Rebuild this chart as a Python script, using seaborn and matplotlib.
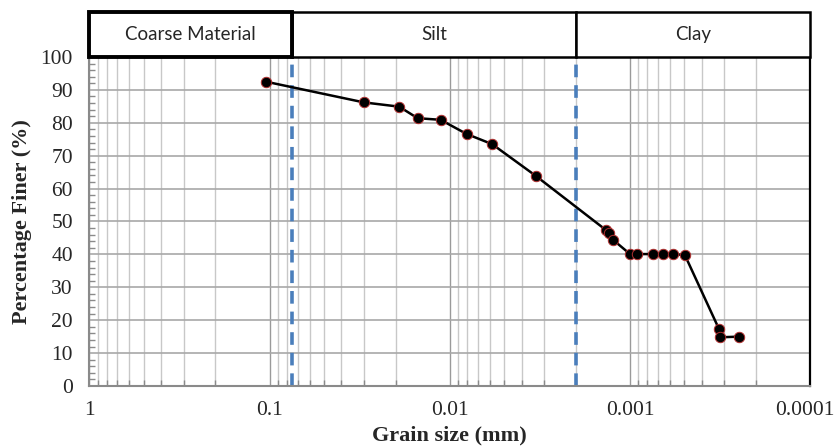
import matplotlib
matplotlib.use("Agg")
import matplotlib.pyplot as plt
from matplotlib.patches import Rectangle
from matplotlib.transforms import ScaledTranslation
from matplotlib.ticker import FixedLocator, LogLocator, NullFormatter, MultipleLocator
import seaborn as sns
import pandas as pd

# Hydrometer / sieve results
grain_size_mm = [0.105, 0.030, 0.0191, 0.0151, 0.01125, 0.00807, 0.00582, 0.00334,
                 0.00136, 0.0013, 0.00124, 0.001, 0.000912, 0.00075, 0.000659,
                 0.00058, 0.000496, 0.00032, 0.000317, 0.000249]
percent_finer = [92.5, 86.2, 84.9, 81.4, 80.9, 76.6, 73.5, 63.9,
                 47.4, 46.4, 44.4, 40.1, 40.1, 40.1, 40.1,
                 40.1, 39.8, 17.2, 14.8, 15.0]

# Soil class boundaries (mm)
boundaries = [0.075, 0.002]
class_names = ["Coarse Material", "Silt", "Clay"]
class_edges = [1.0, 0.075, 0.002, 0.0001]

x_ticks = [1, 0.1, 0.01, 0.001, 0.0001]
x_tick_labels = ["1", "0.1", "0.01", "0.001", "0.0001"]
y_ticks = list(range(0, 101, 10))

df = pd.DataFrame({"size": grain_size_mm, "finer": percent_finer})

sns.set_style("white")
plt.rcParams["font.family"] = ["Liberation Serif", "DejaVu Serif"]

fig = plt.figure(figsize=(8.38, 4.48), dpi=100)
ax = fig.add_axes([0.1068, 0.1384, 0.8600, 0.7344])
ax.set_xscale("log")
ax.set_xlim(1, 0.0001)
ax.set_ylim(0, 100)

# grid
ax.xaxis.set_major_locator(FixedLocator(x_ticks))
ax.xaxis.set_minor_locator(LogLocator(base=10, subs=range(2, 10), numticks=20))
ax.xaxis.set_minor_formatter(NullFormatter())
ax.set_xticks(x_ticks)
ax.set_xticklabels(x_tick_labels)
ax.set_yticks(y_ticks)
ax.yaxis.set_minor_locator(MultipleLocator(2))
ax.grid(which="major", axis="x", color="#9a9a9a", lw=1.0)
ax.grid(which="minor", axis="x", color="#c8c8c8", lw=1.0)
ax.grid(which="major", axis="y", color="#a8a8a8", lw=1.2)
ax.set_axisbelow(True)

# class boundary lines
for b in boundaries:
    ax.axvline(b, color="#4a7ebb", lw=2.6, ls=(0, (3.5, 2.2)), zorder=2)

sns.lineplot(data=df, x="size", y="finer", sort=False, estimator=None, ax=ax,
             color="black", lw=1.8, marker="o", markersize=7.5,
             markerfacecolor="black", markeredgecolor="#b03030",
             markeredgewidth=0.7, zorder=3)

# classification bar above the plot
trans = ax.get_xaxis_transform()
box_h = 45 / 329
for i, name in enumerate(class_names):
    x0, x1 = class_edges[i], class_edges[i + 1]
    lw = 2.8 if i == 0 else 1.8
    rect = Rectangle((x0, 1.0), x1 - x0, box_h, transform=trans, fill=True,
                     facecolor="white", edgecolor="black", lw=lw, clip_on=False,
                     zorder=5 if i == 0 else 4)
    ax.add_patch(rect)
    xm = (x0 * x1) ** 0.5
    ax.text(xm, 1.0 + box_h / 2, name, transform=trans, ha="center", va="center",
            family=["Lato", "DejaVu Sans"], fontsize=13.5, zorder=6)

for s in ["left", "bottom"]:
    ax.spines[s].set_color("#8a8a8a")
    ax.spines[s].set_linewidth(1.5)
ax.spines["right"].set_color("black")
ax.spines["right"].set_linewidth(1.6)
ax.spines["top"].set_visible(False)

ax.tick_params(axis="both", which="major", direction="out", length=6,
               color="#8a8a8a", width=1.2, labelsize=15.5)
ax.tick_params(axis="both", which="minor", direction="in", length=4,
               color="#8a8a8a", width=1.0)
ax.tick_params(axis="x", which="major", pad=5)
ax.tick_params(axis="y", which="major", pad=6)
ax.tick_params(axis="y", which="minor", left=True)
ax.tick_params(axis="x", which="minor", bottom=True)

# keep the rightmost tick label inside the figure
last = ax.get_xticklabels()[-1]
last.set_transform(last.get_transform() + ScaledTranslation(-5 / 100, 0, fig.dpi_scale_trans))

ax.set_xlabel("Grain size (mm)", fontsize=16, fontweight="bold", labelpad=4)
ax.set_ylabel("Percentage Finer (%)", fontsize=16, fontweight="bold", labelpad=6)

fig.savefig("out.png", dpi=100)
